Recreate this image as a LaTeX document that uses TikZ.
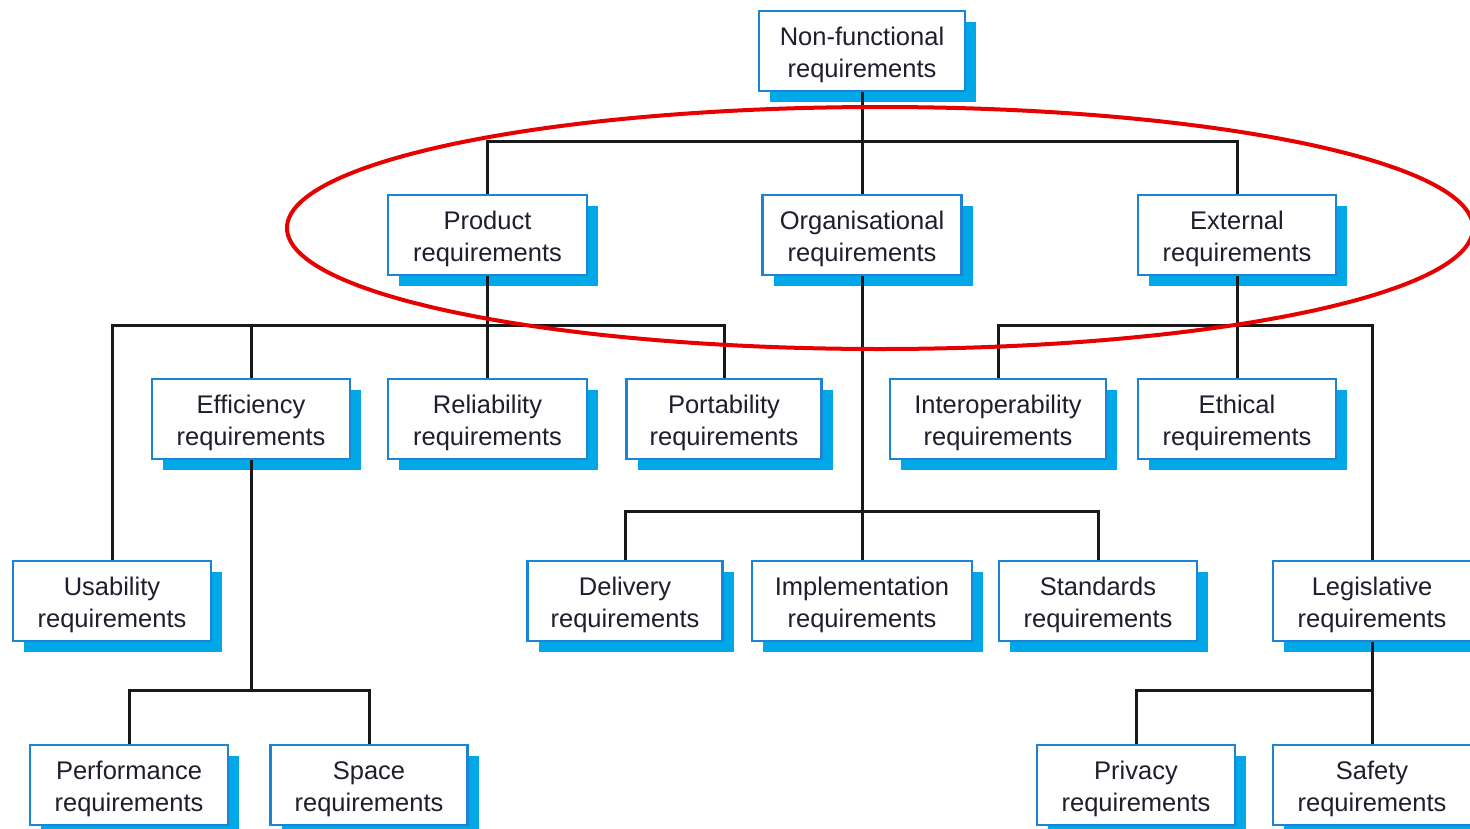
\documentclass[tikz,border=0pt]{standalone}
\usepackage{fontspec}
\setmainfont{Liberation Sans}
\usetikzlibrary{shadows}
\definecolor{boxline}{RGB}{28,132,212}
\definecolor{boxshade}{RGB}{0,168,232}
\definecolor{txt}{RGB}{30,30,45}
\definecolor{ring}{RGB}{230,0,0}
\tikzset{
  req/.style={draw=boxline, line width=2.6pt, fill=white, minimum height=80pt,
    align=center, inner sep=0pt, text=txt, text height=52pt, text depth=0pt,
    font=\fontsize{25.5}{32}\selectfont,
    drop shadow={shadow xshift=11pt, shadow yshift=-11pt, opacity=1, fill=boxshade}},
  link/.style={line width=3pt, draw=black!90}
}
\begin{document}
\begin{tikzpicture}[x=1pt,y=1pt]
\useasboundingbox (0,0) rectangle (1470,-828);

% top level
\node[req, minimum width=206pt] (nf)   at (862,-51)  {Non-functional\\requirements};
% second level
\node[req, minimum width=199pt] (prod) at (487.5,-235) {Product\\requirements};
\node[req, minimum width=199pt] (org)  at (862,-235)   {Organisational\\requirements};
\node[req, minimum width=198pt] (ext)  at (1237,-235)  {External\\requirements};
% product branch
\node[req, minimum width=198pt] (eff)  at (251,-419)   {Efficiency\\requirements};
\node[req, minimum width=199pt] (rel)  at (487.5,-419) {Reliability\\requirements};
\node[req, minimum width=195pt] (port) at (724,-419)   {Portability\\requirements};
\node[req, minimum width=198pt] (usa)  at (112,-601)   {Usability\\requirements};
\node[req, minimum width=198pt] (perf) at (129,-785)   {Performance\\requirements};
\node[req, minimum width=197pt] (spc)  at (369,-785)   {Space\\requirements};
% organisational branch
\node[req, minimum width=195pt] (del)  at (625,-601)   {Delivery\\requirements};
\node[req, minimum width=220pt] (impl) at (862,-601)   {Implementation\\requirements};
\node[req, minimum width=198pt] (std)  at (1098,-601)  {Standards\\requirements};
% external branch
\node[req, minimum width=216pt] (inter) at (998,-419)  {Interoperability\\requirements};
\node[req, minimum width=198pt] (eth)  at (1237,-419)  {Ethical\\requirements};
\node[req, minimum width=198pt] (leg)  at (1372,-601)  {Legislative\\requirements};
\node[req, minimum width=198pt] (priv) at (1136,-785)  {Privacy\\requirements};
\node[req, minimum width=198pt] (safe) at (1372,-785)  {Safety\\requirements};

% bus heights
\coordinate (b1) at (0,-141);
\coordinate (b2) at (0,-325);
\coordinate (b3) at (0,-511);
\coordinate (b4) at (0,-690);

% non-functional -> categories
\draw[link] (nf.south) -- (nf.south |- b1);
\draw[link] (prod.north) -- (prod.north |- b1) -- (ext.north |- b1) -- (ext.north);
\draw[link] (org.north) -- (org.north |- b1);

% product -> subtypes
\draw[link] (prod.south) -- (prod.south |- b2);
\draw[link] (usa.north) -- (usa.north |- b2) -- (port.north |- b2) -- (port.north);
\draw[link] (eff.north) -- (eff.north |- b2);
\draw[link] (rel.north) -- (rel.north |- b2);

% efficiency -> subtypes
\draw[link] (eff.south) -- (eff.south |- b4);
\draw[link] (perf.north) -- (perf.north |- b4) -- (spc.north |- b4) -- (spc.north);

% organisational -> subtypes
\draw[link] (org.south) -- (org.south |- b3);
\draw[link] (del.north) -- (del.north |- b3) -- (std.north |- b3) -- (std.north);
\draw[link] (impl.north) -- (impl.north |- b3);

% external -> subtypes
\draw[link] (ext.south) -- (ext.south |- b2);
\draw[link] (inter.north) -- (inter.north |- b2) -- (leg.north |- b2) -- (leg.north);
\draw[link] (eth.north) -- (eth.north |- b2);

% legislative -> subtypes
\draw[link] (leg.south) -- (leg.south |- b4);
\draw[link] (priv.north) -- (priv.north |- b4) -- (safe.north |- b4) -- (safe.north);

% highlight around the three categories
\draw[ring, line width=4pt] (880,-228) ellipse [x radius=593, y radius=121];
\end{tikzpicture}
\end{document}
